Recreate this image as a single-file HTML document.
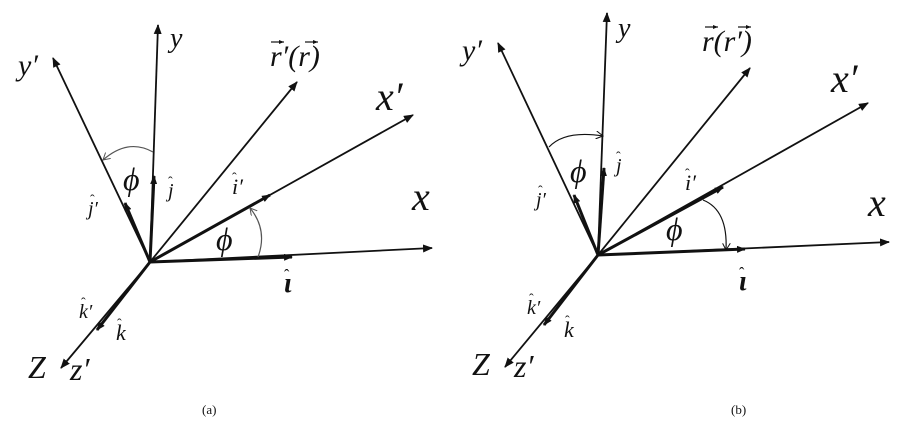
<!DOCTYPE html>
<html><head><meta charset="utf-8"><style>
html,body{margin:0;padding:0;background:#fff;}
svg{display:block;}
text{font-family:"Liberation Serif","DejaVu Serif",serif;font-style:italic;fill:#111;}
.h{font-style:normal;}
</style></head><body>
<svg width="920" height="434" viewBox="0 0 920 434" xmlns="http://www.w3.org/2000/svg">
<defs>
<marker id="ah" markerWidth="10" markerHeight="8" refX="9" refY="4" orient="auto" markerUnits="userSpaceOnUse"><path d="M0,0 L10,4 L0,8 Z" fill="#111"/></marker>
<marker id="sh" markerWidth="9" markerHeight="7" refX="8" refY="3.5" orient="auto" markerUnits="userSpaceOnUse"><path d="M0,0 L9,3.5 L0,7 Z" fill="#111"/></marker>
<marker id="va" markerWidth="5" markerHeight="4" refX="5" refY="2" orient="auto" markerUnits="userSpaceOnUse"><path d="M0,0 L5,2 L0,4 Z" fill="#111"/></marker>
<marker id="oa" markerWidth="8" markerHeight="8" refX="7" refY="4" orient="auto" markerUnits="userSpaceOnUse"><path d="M0,0 L7,4 L0,8" fill="none" stroke="#555" stroke-width="1"/></marker>
<marker id="ob" markerWidth="8" markerHeight="8" refX="7" refY="4" orient="auto" markerUnits="userSpaceOnUse"><path d="M0,0 L7,4 L0,8" fill="none" stroke="#111" stroke-width="1"/></marker>
</defs>
<g stroke="#111" stroke-width="1.8" fill="none">
<line x1="150" y1="262" x2="158" y2="25" marker-end="url(#ah)"/>
<line x1="150" y1="262" x2="53" y2="58" marker-end="url(#ah)"/>
<line x1="150" y1="262" x2="297" y2="82" marker-end="url(#ah)"/>
<line x1="150" y1="262" x2="413" y2="115" marker-end="url(#ah)"/>
<line x1="150" y1="262" x2="432" y2="248" marker-end="url(#ah)"/>
<line x1="150" y1="262" x2="61" y2="368" marker-end="url(#ah)"/>
<g stroke-width="3">
<line x1="150" y1="262" x2="154" y2="176" marker-end="url(#sh)"/>
<line x1="150" y1="262" x2="125" y2="203" marker-end="url(#sh)"/>
<line x1="150" y1="262" x2="270" y2="195" marker-end="url(#sh)"/>
<line x1="150" y1="262" x2="292" y2="257" marker-end="url(#sh)"/>
<line x1="150" y1="262" x2="97" y2="330" marker-end="url(#sh)"/>
</g>
<path d="M153,152 Q128,138 103,160" stroke="#555" stroke-width="1.2" marker-end="url(#oa)"/>
<path d="M258,257 Q268,230 250,208" stroke="#555" stroke-width="1.2" marker-end="url(#oa)"/>
<line x1="598" y1="255" x2="607" y2="13" marker-end="url(#ah)"/>
<line x1="598" y1="255" x2="498" y2="43" marker-end="url(#ah)"/>
<line x1="598" y1="255" x2="750" y2="68" marker-end="url(#ah)"/>
<line x1="598" y1="255" x2="868" y2="103" marker-end="url(#ah)"/>
<line x1="598" y1="255" x2="889" y2="242" marker-end="url(#ah)"/>
<line x1="598" y1="255" x2="505" y2="367" marker-end="url(#ah)"/>
<g stroke-width="3">
<line x1="598" y1="255" x2="604" y2="168" marker-end="url(#sh)"/>
<line x1="598" y1="255" x2="574" y2="195" marker-end="url(#sh)"/>
<line x1="598" y1="255" x2="723" y2="187" marker-end="url(#sh)"/>
<line x1="598" y1="255" x2="745" y2="249" marker-end="url(#sh)"/>
<line x1="598" y1="255" x2="544" y2="325" marker-end="url(#sh)"/>
</g>
<path d="M549,147 Q565,130 603,136" stroke-width="1.2" marker-end="url(#ob)"/>
<path d="M703,200 Q728,210 726,250" stroke-width="1.2" marker-end="url(#ob)"/>
<g stroke-width="1.2">
<line x1="271" y1="42" x2="284" y2="42" marker-end="url(#va)"/>
<line x1="305" y1="42" x2="318" y2="42" marker-end="url(#va)"/>
<line x1="705" y1="27" x2="718" y2="27" marker-end="url(#va)"/>
<line x1="738" y1="27" x2="751" y2="27" marker-end="url(#va)"/>
</g>
</g>
<text x="18" y="75" font-size="30">y′</text>
<text x="170" y="47" font-size="28">y</text>
<text x="270" y="66" font-size="30">r′(r)</text>
<text x="376" y="110" font-size="40">x′</text>
<text x="412" y="210" font-size="40">x</text>
<text x="123" y="190" font-size="32">ϕ</text>
<text x="168" y="197" font-size="20">j</text><text class="h" x="168" y="186" font-size="14">ˆ</text>
<text x="88" y="215" font-size="20">j′</text><text class="h" x="90" y="204" font-size="14">ˆ</text>
<text x="232" y="194" font-size="22">i′</text><text class="h" x="232" y="182" font-size="14">ˆ</text>
<text x="216" y="250" font-size="32">ϕ</text>
<text x="284" y="292" font-size="28" font-weight="bold">ι</text><text class="h" x="284" y="280" font-size="16">ˆ</text>
<text x="79" y="318" font-size="20">k′</text><text class="h" x="81" y="307" font-size="14">ˆ</text>
<text x="116" y="340" font-size="22">k</text><text class="h" x="117" y="328" font-size="14">ˆ</text>
<text x="28" y="378" font-size="32">Z</text>
<text x="70" y="380" font-size="32">z′</text>
<text x="202" y="414" font-size="13" class="h">(a)</text>
<text x="462" y="60" font-size="30">y′</text>
<text x="618" y="37" font-size="28">y</text>
<text x="702" y="51" font-size="30">r(r′)</text>
<text x="831" y="92" font-size="40">x′</text>
<text x="868" y="216" font-size="40">x</text>
<text x="570" y="182" font-size="32">ϕ</text>
<text x="616" y="172" font-size="20">j</text><text class="h" x="616" y="161" font-size="14">ˆ</text>
<text x="536" y="206" font-size="20">j′</text><text class="h" x="538" y="195" font-size="14">ˆ</text>
<text x="685" y="190" font-size="22">i′</text><text class="h" x="685" y="178" font-size="14">ˆ</text>
<text x="666" y="240" font-size="32">ϕ</text>
<text x="739" y="290" font-size="28" font-weight="bold">ι</text><text class="h" x="739" y="278" font-size="16">ˆ</text>
<text x="527" y="314" font-size="20">k′</text><text class="h" x="529" y="303" font-size="14">ˆ</text>
<text x="564" y="337" font-size="22">k</text><text class="h" x="565" y="325" font-size="14">ˆ</text>
<text x="472" y="375" font-size="32">Z</text>
<text x="514" y="377" font-size="32">z′</text>
<text x="731" y="414" font-size="13" class="h">(b)</text>
</svg>
</body></html>
